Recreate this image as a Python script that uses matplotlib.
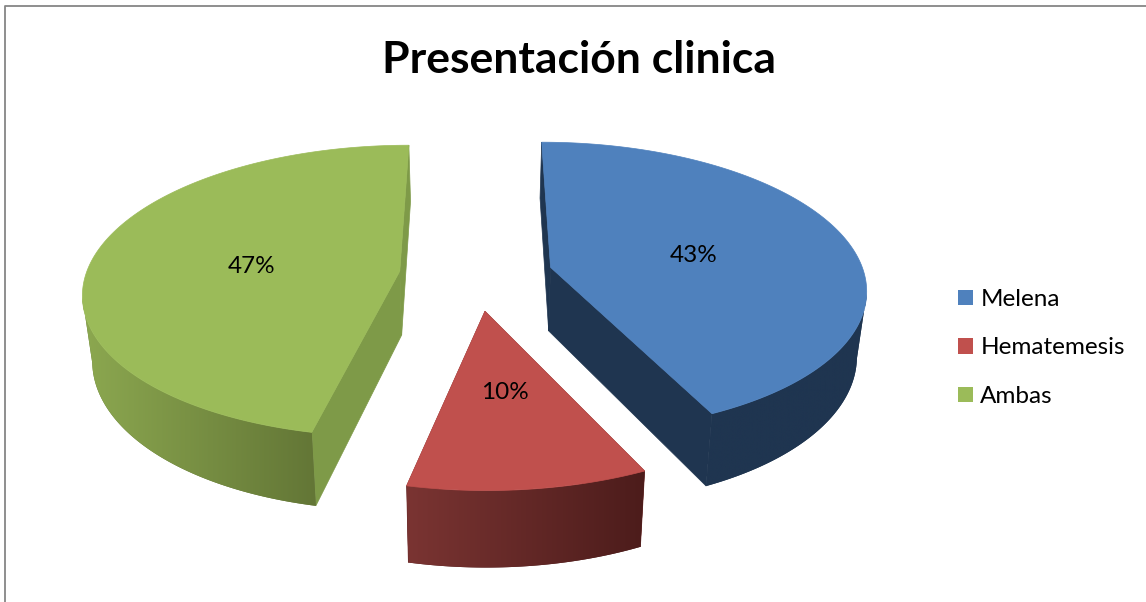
import numpy as np
import matplotlib
matplotlib.use('Agg')
import matplotlib.pyplot as plt
from matplotlib.colors import LinearSegmentedColormap
from matplotlib.patches import Patch, Polygon

categories = ['Melena', 'Hematemesis', 'Ambas']
values = [43.0, 10.4, 46.6]
pct_labels = ['43%', '10%', '47%']
title = 'Presentación clinica'

top_colors = ['#4F81BD', '#C0504D', '#9BBB59']
cut_colors = ['#1F3550', '#7A3432', '#7E9A48']
wall_left = ['#1F3550', '#7A3432', '#8CA850']
wall_right = ['#1F3550', '#4C1C1B', '#637636']

W, H = 1146, 602
# pie plane -> pixels, perspective camera
CX, CY = 476, 275
SX = 314
DIST = 7.37
DROP = 1062
DEPTH = 64
SHRINK = 0.975
EXPLODE = 0.245


def project(u, v, lower=False):
    w = DIST / (DIST + v)
    x = CX + SX * u * w
    y = CY + DROP * (w - 1)
    if lower:
        x = CX + (x - CX) * SHRINK
        y = y + DEPTH * w
    return x, y


def to_xy(u, v, lower=False):
    return np.column_stack(project(np.asarray(u), np.asarray(v), lower))


plt.rcParams['font.family'] = ['Lato', 'DejaVu Sans']
fig = plt.figure(figsize=(W / 100, H / 100), dpi=100)
ax = fig.add_axes([0, 0, 1, 1])
ax.set_xlim(0, W)
ax.set_ylim(H, 0)
ax.axis('off')

# chart frame, only top and left are inside the picture
ax.plot([W + 5, 5, 5], [6, 6, H + 5], color='#868686', lw=1.3)

start = 0.0
total = sum(values)
for i, val in enumerate(values):
    a0 = start
    a1 = start + val / total * 2 * np.pi
    start = a1
    mid = (a0 + a1) / 2
    u0 = EXPLODE * np.sin(mid)
    v0 = EXPLODE * np.cos(mid)
    t = np.linspace(a0, a1, 200)
    us = u0 + np.sin(t)
    vs = v0 + np.cos(t)

    # flat cut faces
    for a in (a0, a1):
        ue, ve = u0 + np.sin(a), v0 + np.cos(a)
        ru = np.linspace(u0, ue, 30)
        rv = np.linspace(v0, ve, 30)
        face = np.vstack([to_xy(ru, rv), to_xy(ru, rv, True)[::-1]])
        ax.add_patch(Polygon(face, fc=cut_colors[i], ec=cut_colors[i], lw=0.5, zorder=2))

    # outer wall, only the part of the arc facing the viewer (moving leftwards on screen)
    top_arc = to_xy(us, vs)
    low_arc = to_xy(us, vs, True)
    front = np.gradient(top_arc[:, 0]) < 0
    wall = np.vstack([top_arc[front], low_arc[front][::-1]])
    ax.add_patch(Polygon(wall, fc=wall_right[i], ec='none', zorder=2.5))
    xmin, xmax = wall[:, 0].min(), wall[:, 0].max()
    ymin, ymax = wall[:, 1].min(), wall[:, 1].max()
    cmap = LinearSegmentedColormap.from_list('w', [wall_left[i], wall_right[i]])
    im = ax.imshow(np.linspace(0, 1, 256).reshape(1, -1), cmap=cmap, aspect='auto',
                   extent=[xmin, xmax, ymax, ymin], zorder=3)
    im.set_clip_path(Polygon(wall, transform=ax.transData))

    # top face
    top = np.vstack([to_xy([u0], [v0]), top_arc])
    ax.add_patch(Polygon(top, fc=top_colors[i], ec=top_colors[i], lw=0.5, zorder=4))

    lx, ly = project(u0 + 0.48 * np.sin(mid), v0 + 0.48 * np.cos(mid))
    ax.text(lx, ly + 2.5, pct_labels[i], fontsize=17.5, color='black', ha='center', va='center', zorder=5)

ax.set_xlim(0, W)
ax.set_ylim(H, 0)

ax.text(579, 60, title, fontsize=32, fontweight='bold', ha='center', va='center')

handles = [Patch(fc=c, ec=c, lw=0) for c in top_colors]
ax.legend(handles, categories, loc='center left', bbox_to_anchor=(958 / W, 1 - 348 / H),
          bbox_transform=fig.transFigure, frameon=False, fontsize=17.5, handlelength=0.62,
          handleheight=0.62, handletextpad=0.3, labelspacing=1.13, borderpad=0, borderaxespad=0)

fig.savefig('out.png', dpi=100)
